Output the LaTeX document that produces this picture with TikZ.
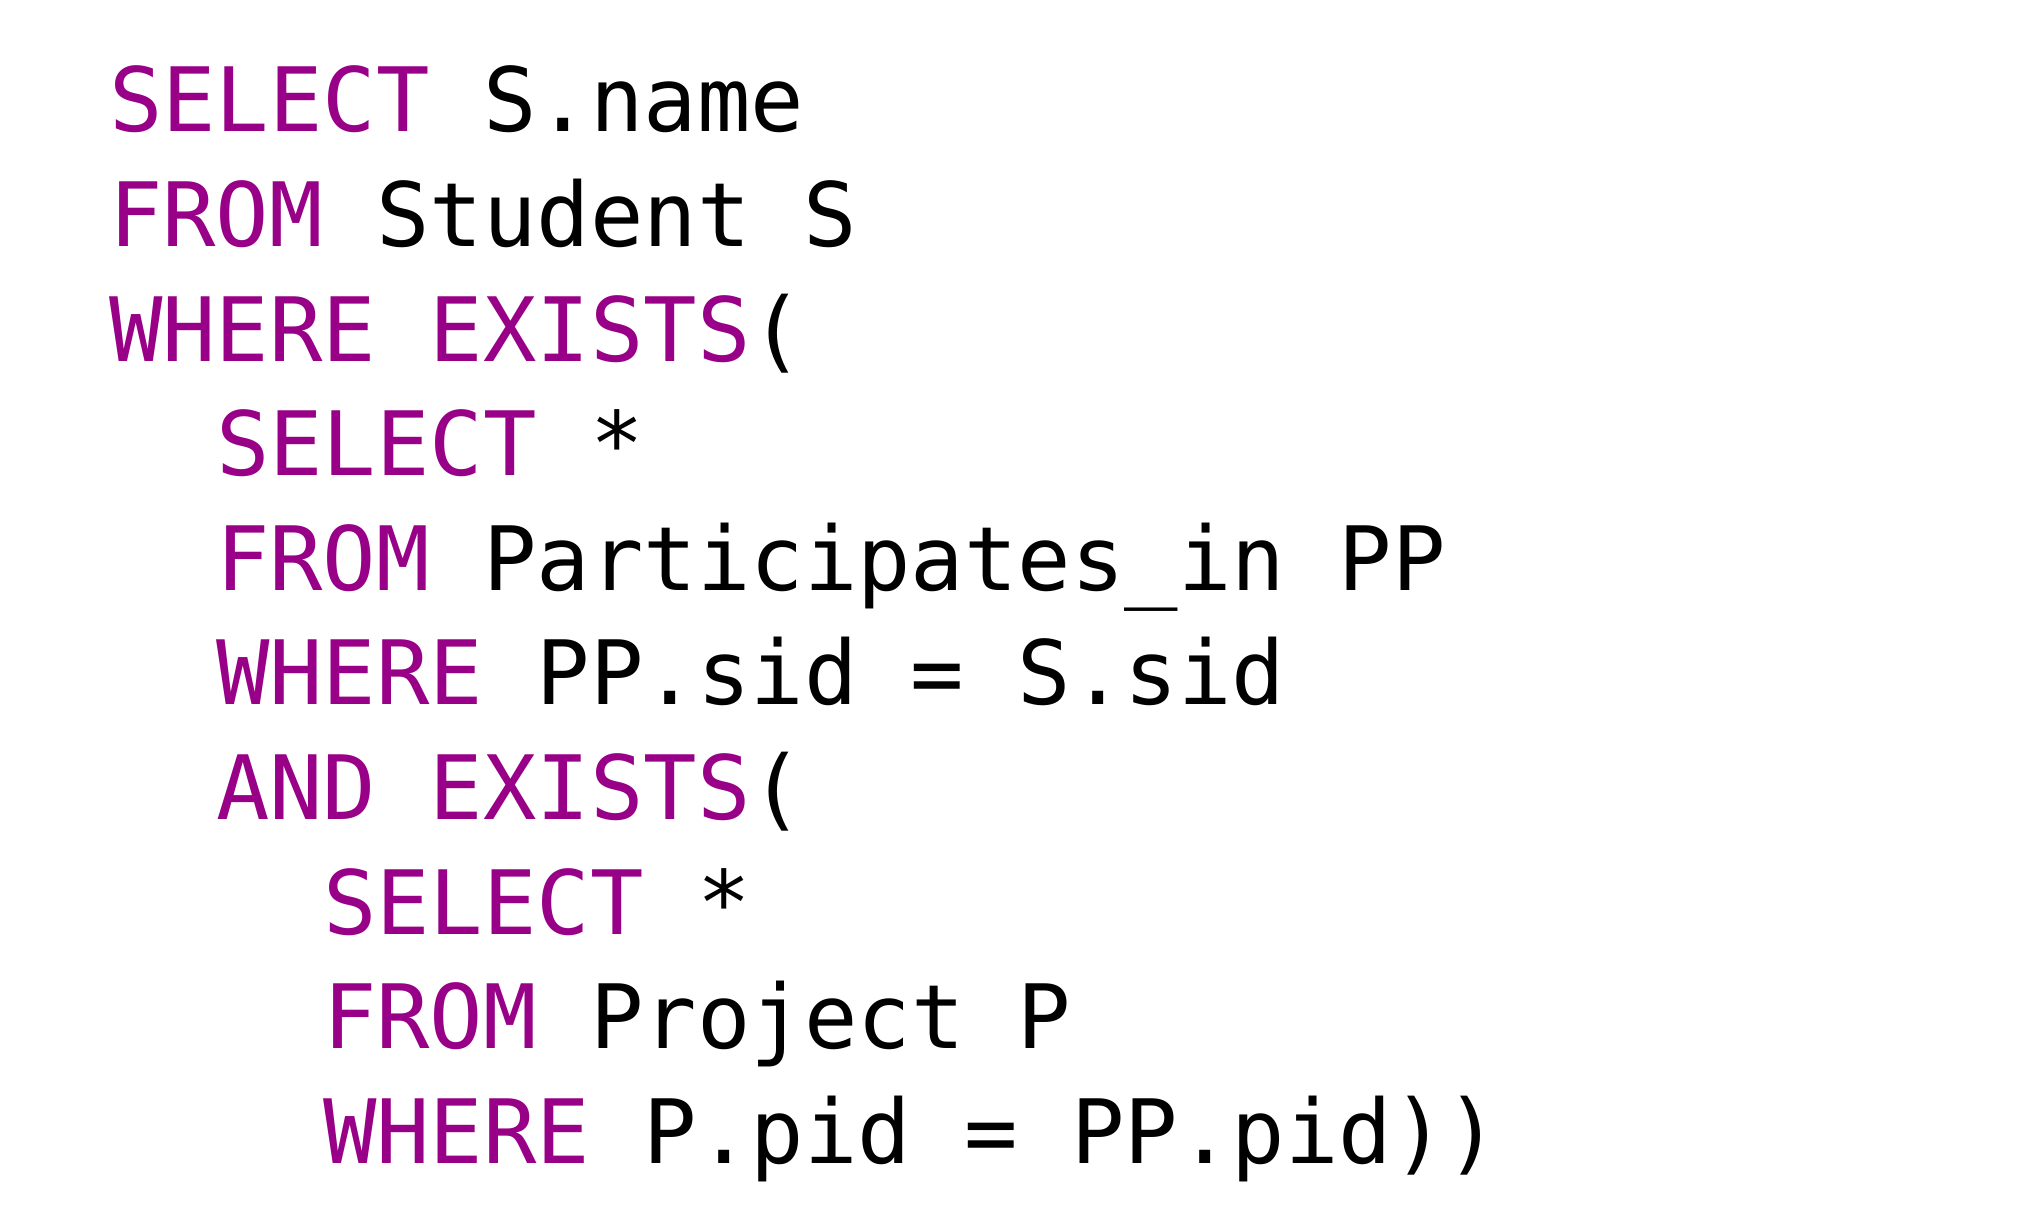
\documentclass[tikz,border=0pt]{standalone}
\usepackage{fontspec}
\newfontfamily\sqlfont{DejaVu Sans Mono}[WordSpace={1,0,0},PunctuationSpace=WordSpace]
\usetikzlibrary{positioning}

\definecolor{sqlkw}{RGB}{153,0,136}
\newcommand{\kw}[1]{\textcolor{sqlkw}{#1}}

\tikzset{
    sqlline/.style={anchor=base west, inner sep=0, outer sep=0, font=\sqlfont\fontsize{44.4}{50}\selectfont\frenchspacing}
}

\begin{document}
\begin{tikzpicture}
        \useasboundingbox (0,0) rectangle (1014pt,-614pt);

        \node[sqlline] (select) at (54.5pt,-65.9pt) {\kw{SELECT} S.name};
        \node[sqlline] (from) at (54.5pt,-123.2pt) {\kw{FROM} Student S};
        \node[sqlline] (where) at (54.5pt,-180.5pt) {\kw{WHERE} \kw{EXISTS}(};

        \node[sqlline] (selectpp) at (108pt,-237.8pt) {\kw{SELECT} *};
        \node[sqlline] (frompp) at (108pt,-295.1pt) {\kw{FROM} Participates\_in PP};
        \node[sqlline] (wherepp) at (108pt,-352.4pt) {\kw{WHERE} PP.sid = S.sid};
        \node[sqlline] (andpp) at (108pt,-409.7pt) {\kw{AND} \kw{EXISTS}(};

        \node[sqlline] (selectp) at (161.5pt,-467pt) {\kw{SELECT} *};
        \node[sqlline] (fromp) at (161.5pt,-524.3pt) {\kw{FROM} Project P};
        \node[sqlline] (wherep) at (161.5pt,-581.6pt) {\kw{WHERE} P.pid = PP.pid))};
    \end{tikzpicture}
\end{document}
